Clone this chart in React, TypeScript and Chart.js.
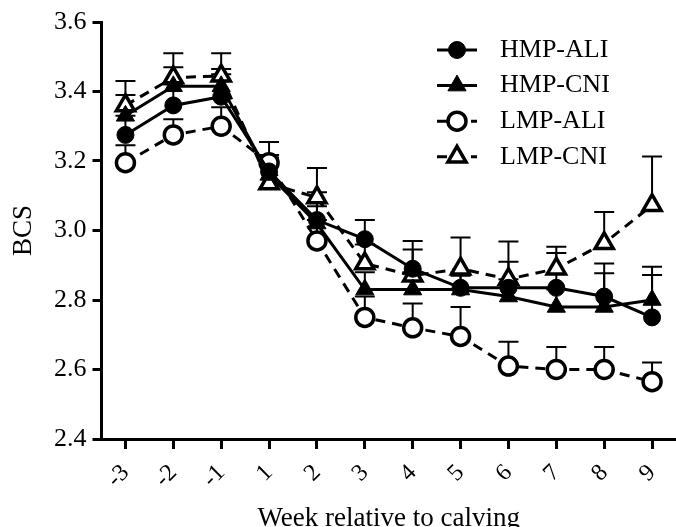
import React, { useEffect, useRef } from 'react';
import { Chart, registerables } from 'chart.js';

Chart.register(...registerables);

// ---- data ----
const weeks = ['-3', '-2', '-1', '1', '2', '3', '4', '5', '6', '7', '8', '9'];
const seriesNames = ['HMP-ALI', 'HMP-CNI', 'LMP-ALI', 'LMP-CNI'];

const hmpAli = [3.275, 3.36, 3.385, 3.17, 3.03, 2.975, 2.89, 2.835, 2.835, 2.835, 2.81, 2.75];
const hmpAliSem = [0.055, 0.06, 0.065, 0.047, 0.08, 0.055, 0.08, 0.045, 0.075, 0.1, 0.095, 0.122];

const hmpCni = [3.33, 3.415, 3.415, 3.16, 3.02, 2.83, 2.83, 2.83, 2.81, 2.78, 2.78, 2.8];
const hmpCniSem = [0.06, 0.055, 0.05, 0.05, 0.05, 0.05, 0.05, 0.04, 0.05, 0.05, 0.097, 0.096];

const lmpAli = [3.195, 3.275, 3.3, 3.195, 2.97, 2.75, 2.72, 2.695, 2.61, 2.6, 2.6, 2.565];
const lmpAliSem = [0.05, 0.045, 0.055, 0.06, 0.06, 0.06, 0.07, 0.085, 0.07, 0.065, 0.065, 0.055];

const lmpCni = [3.36, 3.44, 3.445, 3.135, 3.095, 2.905, 2.87, 2.89, 2.86, 2.89, 2.963, 3.073];
const lmpCniSem = [0.07, 0.07, 0.065, 0.065, 0.085, 0.055, 0.075, 0.09, 0.108, 0.063, 0.09, 0.14];

const yTickValues = [2.4, 2.6, 2.8, 3.0, 3.2, 3.4, 3.6];
const xTitle = 'Week relative to calving';
const yTitle = 'BCS';

const FONT = '"Liberation Serif", "Times New Roman", Times, serif';
const CANVAS_W = 682;
const CANVAS_H = 527;

function drawMarker(ctx: CanvasRenderingContext2D, style: string, x: number, y: number, r: number) {
  ctx.beginPath();
  if (style === 'triangle') {
    let rad = 0;
    ctx.moveTo(x + Math.sin(rad) * r, y - Math.cos(rad) * r);
    rad += (2 * Math.PI) / 3;
    ctx.lineTo(x + Math.sin(rad) * r, y - Math.cos(rad) * r);
    rad += (2 * Math.PI) / 3;
    ctx.lineTo(x + Math.sin(rad) * r, y - Math.cos(rad) * r);
    ctx.closePath();
  } else {
    ctx.arc(x, y, r, 0, Math.PI * 2);
  }
  ctx.fill();
  ctx.stroke();
}

const errorBarPlugin = {
  id: 'errorBars',
  beforeDatasetsDraw(chart: any) {
    const { ctx, scales } = chart;
    const y = scales.y;
    ctx.save();
    ctx.strokeStyle = '#000';
    ctx.lineWidth = 2;
    chart.data.datasets.forEach((ds: any, di: number) => {
      const meta = chart.getDatasetMeta(di);
      meta.data.forEach((pt: any, i: number) => {
        const top = y.getPixelForValue(ds.data[i] + ds.sem[i]);
        ctx.beginPath();
        ctx.moveTo(pt.x, pt.y);
        ctx.lineTo(pt.x, top);
        ctx.moveTo(pt.x - 10, top);
        ctx.lineTo(pt.x + 10, top);
        ctx.stroke();
      });
    });
    ctx.restore();
  },
};

const insideLegendPlugin = {
  id: 'insideLegend',
  afterDraw(chart: any) {
    const { ctx, chartArea } = chart;
    const x0 = chartArea.left + 335.5;
    chart.data.datasets.forEach((ds: any, i: number) => {
      const yy = chartArea.top + 28 + i * 35.6;
      ctx.save();
      ctx.strokeStyle = '#000';
      ctx.lineWidth = 3;
      ctx.setLineDash(ds.borderDash || []);
      ctx.beginPath();
      ctx.moveTo(x0, yy);
      ctx.lineTo(x0 + 40, yy);
      ctx.stroke();
      ctx.setLineDash([]);
      ctx.fillStyle = ds.pointBackgroundColor;
      ctx.lineWidth = ds.pointBorderWidth;
      drawMarker(ctx, ds.pointStyle, x0 + 20, yy, ds.pointRadius);
      ctx.fillStyle = '#000';
      ctx.font = `26px ${FONT}`;
      ctx.textBaseline = 'middle';
      ctx.textAlign = 'left';
      ctx.fillText(ds.label, x0 + 63, yy);
      ctx.restore();
    });
  },
};

function makeDataset(label: string, data: number[], sem: number[], filled: boolean, shape: string, dashed: boolean) {
  return {
    label,
    data,
    sem,
    borderColor: '#000',
    borderWidth: 3,
    borderDash: dashed ? [10, 7] : [],
    pointStyle: shape,
    pointRadius: shape === 'triangle' ? 10.5 : filled ? 8.5 : 9,
    pointBorderWidth: filled ? 1 : 3.5,
    pointBackgroundColor: filled ? '#000' : '#fff',
    pointBorderColor: '#000',
    tension: 0,
    fill: false,
  };
}

export default function App() {
  const canvasRef = useRef<HTMLCanvasElement>(null);

  useEffect(() => {
    if (!canvasRef.current) return;
    const chart = new Chart(canvasRef.current, {
      type: 'line',
      data: {
        labels: weeks,
        datasets: [
          makeDataset(seriesNames[0], hmpAli, hmpAliSem, true, 'circle', false),
          makeDataset(seriesNames[1], hmpCni, hmpCniSem, true, 'triangle', false),
          makeDataset(seriesNames[2], lmpAli, lmpAliSem, false, 'circle', true),
          makeDataset(seriesNames[3], lmpCni, lmpCniSem, false, 'triangle', true),
        ] as any,
      },
      options: {
        animation: false,
        responsive: false,
        devicePixelRatio: 1,
        layout: { padding: { top: 14, right: 0, bottom: 0, left: 0 } },
        plugins: { legend: { display: false }, tooltip: { enabled: false } },
        scales: {
          x: {
            type: 'category',
            offset: true,
            grid: {
              display: true,
              drawOnChartArea: false,
              drawTicks: true,
              tickLength: 10,
              tickWidth: 3,
              tickColor: '#000',
              offset: false,
            },
            border: { display: true, width: 3, color: '#000' },
            ticks: {
              color: '#000',
              font: { family: FONT, size: 24 },
              minRotation: 45,
              maxRotation: 45,
              padding: 10,
              autoSkip: false,
            },
            title: {
              display: true,
              text: xTitle,
              color: '#000',
              font: { family: FONT, size: 27 },
              padding: { top: 0, bottom: 0 },
            },
            afterFit: (s: any) => {
              s.height = 96;
              s.paddingLeft = 0;
              s.paddingRight = 0;
            },
          },
          y: {
            min: 2.4,
            max: 3.6,
            afterBuildTicks: (s: any) => {
              s.ticks = yTickValues.map((v) => ({ value: v }));
            },
            ticks: {
              color: '#000',
              font: { family: FONT, size: 26, lineHeight: 1 },
              padding: 6,
              callback: (v: any) => Number(v).toFixed(1),
            },
            grid: {
              display: true,
              drawOnChartArea: false,
              drawTicks: true,
              tickLength: 9,
              tickWidth: 3,
              tickColor: '#000',
            },
            border: { display: true, width: 3, color: '#000' },
            title: {
              display: true,
              text: yTitle,
              color: '#000',
              font: { family: FONT, size: 27 },
              padding: { top: 0, bottom: 0 },
            },
            afterFit: (s: any) => {
              s.width = 93.5;
              s.paddingTop = 0;
              s.paddingBottom = 0;
            },
          },
        },
      } as any,
      plugins: [errorBarPlugin, insideLegendPlugin],
    });
    return () => chart.destroy();
  }, []);

  return (
    <div style={{ position: 'fixed', left: 8, top: 8, width: CANVAS_W, height: CANVAS_H }}>
      <canvas
        ref={canvasRef}
        width={CANVAS_W}
        height={CANVAS_H}
        style={{ display: 'block', width: CANVAS_W, height: CANVAS_H }}
      />
    </div>
  );
}
